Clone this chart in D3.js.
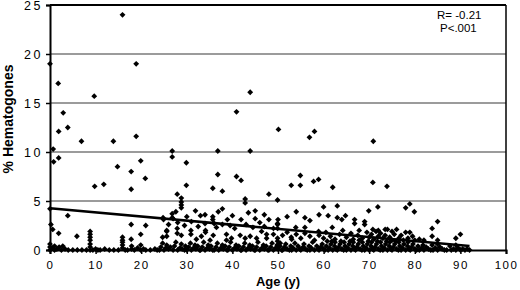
<!DOCTYPE html>
<html>
<head>
<meta charset="utf-8">
<script src="https://cdn.jsdelivr.net/npm/d3@7"></script>
<style>
    body { margin: 0; background: #fff; }
    svg { display: block; font-family: Arial, "Liberation Sans", sans-serif; }
</style>
</head>
<body>
<svg id="hematogonePlot" width="520" height="290"></svg>
<script>
// tick labels
const x_ticks = [0, 10, 20, 30, 40, 50, 60, 70, 80, 90, 100];
const y_ticks = [0, 5, 10, 15, 20, 25];
const stat_lines = ["R= -0.21", "P<.001"];

// [age, % hematogones]
const high_points = [
    [0, 19], [15.9, 24], [18.9, 19], [1.8, 17], [9.7, 15.7], [2.9, 14], [3.9, 12.5], [1.9, 12.1],
    [6.9, 11.1], [13.9, 11.1], [18.9, 11.6], [0.7, 10.3], [0.8, 9.0], [1.9, 9.4], [14.8, 8.5],
    [19.9, 9.1], [17.8, 8.0], [17.8, 6.2], [20.9, 7.3], [9.8, 6.5], [11.8, 6.7], [26.8, 10.1],
    [26.8, 9.5], [29.9, 8.9], [36.8, 10.1], [40.9, 14.1], [43.9, 16.1], [43.9, 10.1], [50.1, 12.3],
    [58, 12.1], [56.9, 11.5], [70.9, 11.1], [29.9, 6.6], [27.9, 5.7], [36.8, 7.7], [35.7, 6.3],
    [37.8, 6.0], [40.9, 7.5], [41.9, 7.1], [42.8, 5.2], [48, 5.7], [49.9, 5.1], [52.9, 6.6],
    [54.9, 7.6], [54.9, 6.6], [57.8, 7.0], [58.9, 7.2], [62, 6.4], [70.8, 6.9], [73.9, 6.5],
    [28.8, 5.3]
];

const mid_points = [
    [0, 4.2], [3.9, 3.5], [0.2, 2.6], [0.6, 2.1], [1.9, 1.7], [5.9, 1.4], [8.8, 1.9], [8.8, 1.6],
    [8.8, 1.3], [8.8, 1.0], [15.9, 1.3], [15.9, 1.0], [17.8, 2.6], [17.8, 1.1], [19.9, 1.6],
    [21, 2.5], [24.7, 1.3], [25.6, 2.0], [24.9, 3.1], [26.8, 3.7], [26.8, 3.3], [27.6, 3.9],
    [27, 3.2], [24.8, 3.3], [28.8, 4.9], [28.8, 4.6], [28.8, 4.3], [31.9, 4.0], [33, 3.5],
    [37.8, 4.2], [36.9, 3.9], [35.7, 3.4], [35.7, 3.1], [36, 2.7], [37.8, 2.6], [38.9, 3.1],
    [41.9, 3.1], [42.8, 4.8], [45, 4.0], [45, 3.2], [48, 3.1], [50, 3.1], [49.9, 2.7], [49.9, 2.2],
    [55.9, 3.3], [53.9, 2.3], [55.9, 2.3], [55.9, 1.7], [61.9, 2.3], [60, 4.4], [63, 4.5],
    [61, 3.5], [63, 3.3], [64.8, 3.5], [64, 3.1], [66.8, 3.1], [66.8, 2.7], [69, 2.9], [69, 2.6],
    [69.9, 4.0], [71.9, 4.4], [78, 4.3], [78.9, 4.7], [79.9, 3.9], [85, 2.9], [83.8, 2.2],
    [83.8, 1.4], [85, 1.0], [90, 1.6], [89, 1.2], [76, 2.1], [78, 1.8], [78.9, 1.8], [74, 2.1],
    [64.2, 2.0], [67.8, 2.0], [70.8, 2.1], [72, 2.0], [73.5, 2.1], [75, 1.9], [58.9, 1.9],
    [52.9, 1.3], [25.6, 1.9], [25.6, 1.4], [27.9, 2.2], [27.9, 1.7], [28.8, 1.5], [30.9, 2.0],
    [30.9, 1.6], [32.1, 1.1], [33.2, 1.4], [34.1, 2.0], [34.1, 1.8], [35.1, 1.0], [35.8, 1.5],
    [38.7, 1.6], [38.7, 1.0], [39.8, 1.2], [41.7, 1.5], [42.8, 1.2], [43.9, 1.4], [45.3, 1.2],
    [46.4, 1.9], [47.5, 1.6], [47.5, 1.2], [49, 2.2], [49, 1.6], [49.9, 2.6], [49.9, 1.2],
    [51, 1.5], [52, 1.8], [53, 1.1], [54, 1.6], [55, 1.2], [57, 1.4], [58, 1.0], [59, 1.5],
    [60, 1.2], [60.5, 1.8], [61.5, 1.4], [62.5, 1.1], [63.5, 1.6], [65, 1.3], [66, 1.7],
    [66.5, 1.1], [67.5, 1.5], [68.5, 1.2], [69.5, 1.8], [70, 1.3], [70.5, 1.6], [71, 1.1],
    [71.5, 1.9], [72, 1.4], [72.5, 1.7], [73, 1.2], [73.5, 1.5], [74.5, 1.3], [75, 1.0],
    [75.5, 1.6], [76.5, 1.2], [77, 1.5], [77.5, 1.0], [78.5, 1.2], [79.5, 1.4], [80, 1.0],
    [81, 1.1], [82, 1.0], [26, 2.6], [28, 2.8], [29.5, 2.5], [31, 2.9], [32.5, 2.4], [34, 2.7],
    [36.5, 2.3], [39.5, 2.5], [40.5, 2.2], [43, 2.6], [44.5, 2.3], [46, 2.8], [47, 2.4],
    [30, 3.4], [34, 3.6], [40, 3.5], [43.5, 3.8], [47, 3.6], [52, 3.4], [54, 3.9], [57, 3.0],
    [59, 3.6]
];

const low_points = [
    [0, 0], [0, 0.3], [0, 0.6], [0.5, 0.2], [1, 0], [1, 0.4], [1.5, 0.1], [2, 0.3], [2.5, 0],
    [2.8, 0.4], [3.3, 0.1], [4, 0], [5, 0], [6, 0], [7, 0], [8, 0], [8.8, 0], [8.8, 0.3],
    [8.8, 0.6], [9.4, 0], [10, 0.1], [10.5, 0], [11, 0], [12, 0.1], [13, 0], [14, 0], [15, 0],
    [15.9, 0.2], [15.9, 0.5], [15.9, 0.8], [16.5, 0], [17, 0], [17.9, 0.1], [17.9, 0.4],
    [18.5, 0], [19.2, 0.2], [19.9, 0], [19.9, 0.5], [20.5, 0.1], [21, 0], [22, 0], [23, 0.1],
    [23.5, 0],
    [24, 0], [24.3, 0.3], [24.7, 0.7], [25, 0], [25.4, 0.2], [25.6, 0.5], [26, 0.1], [26.4, 0.3],
    [27, 0], [27.3, 0.4], [27.6, 0.8], [28, 0], [28.5, 0.2], [28.8, 0.6], [29, 0.1], [29.5, 0],
    [29.7, 0.4], [30, 0], [30.4, 0.3], [30.8, 0.7], [31, 0], [31.5, 0.2], [31.8, 0.5],
    [32, 0.1], [32.4, 0.4], [32.8, 0], [33, 0], [33.4, 0.3], [33.7, 0.8], [34, 0], [34.5, 0.2],
    [34.7, 0.5], [35, 0.1], [35.3, 0.4], [35.7, 0], [36, 0], [36.4, 0.3], [36.7, 0.7], [37, 0],
    [37.5, 0.2], [37.8, 0.5], [38, 0.1], [38.4, 0.4], [38.8, 0], [39, 0], [39.3, 0.3],
    [39.6, 0.8], [40, 0], [40.5, 0.2], [40.8, 0.5], [41, 0.1], [41.4, 0.4], [41.8, 0], [42, 0],
    [42.4, 0.3], [42.7, 0.7], [43, 0], [43.5, 0.2], [43.8, 0.5], [44, 0.1], [44.4, 0.4],
    [44.8, 0], [45, 0], [45.3, 0.3], [45.6, 0.8], [46, 0], [46.5, 0.2], [46.8, 0.5], [47, 0.1],
    [47.4, 0.4], [47.8, 0], [48, 0], [48.4, 0.3], [48.7, 0.7], [49, 0], [49.5, 0.2], [49.8, 0.5],
    [49.9, 0.9], [50, 0.1], [50.4, 0.4], [50.8, 0], [50.5, 0.7], [51, 0], [51.4, 0.3],
    [51.7, 0.6], [52, 0.1], [52.5, 0], [52.8, 0.4], [53, 0], [53.3, 0.2], [53.7, 0.7], [54, 0],
    [54.4, 0.4], [54.8, 0.1], [55, 0], [55.5, 0.3], [55.7, 0.6], [56, 0.1], [56.4, 0],
    [56.8, 0.4], [57, 0], [57.3, 0.2], [57.6, 0.8], [58, 0], [58.5, 0.4], [58.8, 0.1], [59, 0],
    [59.4, 0.3], [59.7, 0.6], [60, 0.1], [60.3, 0], [60.6, 0.4], [60.8, 0.9], [61, 0],
    [61.3, 0.2], [61.6, 0.6], [61.8, 0.9], [62, 0], [62.4, 0.4], [62.7, 0.1], [62.5, 0.8],
    [63, 0], [63.3, 0.3], [63.6, 0.6], [63.8, 0.9], [64, 0.1], [64.4, 0], [64.7, 0.4],
    [64.5, 0.8], [65, 0], [65.3, 0.2], [65.6, 0.6], [65.8, 0.9], [66, 0], [66.4, 0.4],
    [66.7, 0.1], [66.5, 0.8], [67, 0], [67.3, 0.3], [67.6, 0.6], [67.8, 1.0], [68, 0.1],
    [68.4, 0], [68.7, 0.4], [68.5, 0.8], [69, 0], [69.3, 0.2], [69.6, 0.6], [69.8, 0.9], [70, 0],
    [70.4, 0.4], [70.7, 0.1], [70.5, 0.8], [71, 0], [71.3, 0.3], [71.6, 0.6], [71.8, 0.9],
    [72, 0.1], [72.4, 0], [72.7, 0.4], [72.5, 0.8], [73, 0], [73.3, 0.2], [73.6, 0.6],
    [73.8, 0.9], [74, 0], [74.4, 0.4], [74.7, 0.1], [74.5, 0.8], [75, 0], [75.3, 0.3],
    [75.6, 0.6], [75.8, 0.9], [76, 0.1], [76.4, 0], [76.7, 0.4], [76.5, 0.8], [77, 0],
    [77.3, 0.2], [77.6, 0.6], [78, 0], [78.4, 0.4], [78.7, 0.1], [78.5, 0.8], [79, 0],
    [79.3, 0.3], [79.6, 0.6], [80, 0.1], [80.4, 0], [80.7, 0.4], [81, 0], [81.5, 0.2],
    [81.8, 0.5], [82, 0], [82.5, 0.3], [83, 0.1], [83.5, 0], [83.8, 0.5], [84, 0], [84.5, 0.2],
    [85, 0], [85.5, 0.3], [85, 0.6], [86, 0.1], [86.5, 0], [87, 0], [87.7, 0.4], [88, 0],
    [88.5, 0.1], [89, 0], [89, 0.5], [89.5, 0.2], [90, 0], [90.5, 0.1], [91, 0], [91.5, 0.1],
    [92, 0]
];

// trend line end points
const trend_ages = [0, 92];
const trend_values = [4.25, 0.4];

const margin = { top: 5, right: 14, bottom: 40, left: 50 };

const hemato_svg = d3.select("#hematogonePlot");
const hemato_width = +hemato_svg.attr("width") - margin.left - margin.right;
const hemato_height = +hemato_svg.attr("height") - margin.top - margin.bottom;

const hemato_x_scale = d3.scaleLinear().domain([0, 100]).range([0, hemato_width]);
const hemato_y_scale = d3.scaleLinear().domain([0, 25]).range([hemato_height, 0]);

const hemato_g = hemato_svg
    .append("g")
    .attr("transform", `translate(${margin.left}, ${margin.top})`);

// gridlines
hemato_g
    .selectAll(".grid")
    .data(y_ticks.filter((d) => d > 0 && d < 25))
    .enter()
    .append("line")
    .attr("class", "grid")
    .attr("x1", 0)
    .attr("x2", hemato_width)
    .attr("y1", (d) => hemato_y_scale(d))
    .attr("y2", (d) => hemato_y_scale(d))
    .attr("stroke", "#7a7a7a")
    .attr("stroke-width", 1.5);

// frame: top and right
hemato_g
    .append("line")
    .attr("x1", 0)
    .attr("x2", hemato_width)
    .attr("y1", hemato_y_scale(25))
    .attr("y2", hemato_y_scale(25))
    .attr("stroke", "#000")
    .attr("stroke-width", 2);
hemato_g
    .append("line")
    .attr("x1", hemato_width)
    .attr("x2", hemato_width)
    .attr("y1", 0)
    .attr("y2", hemato_height)
    .attr("stroke", "#000")
    .attr("stroke-width", 1.5);

// axes
const hemato_xAxis = hemato_g
    .append("g")
    .attr("transform", `translate(0, ${hemato_height})`)
    .call(
        d3.axisBottom(hemato_x_scale).tickValues(x_ticks).tickSize(4).tickPadding(7)
    );
const hemato_yAxis = hemato_g
    .append("g")
    .call(
        d3.axisLeft(hemato_y_scale).tickValues(y_ticks).tickSize(4).tickPadding(3)
    );

[hemato_xAxis, hemato_yAxis].forEach((ax) => {
    ax.select(".domain").attr("stroke", "#000").attr("stroke-width", 2);
    ax.selectAll(".tick line").attr("stroke", "#000").attr("stroke-width", 1.5);
});
hemato_xAxis
    .selectAll(".tick text")
    .attr("fill", "#000")
    .style("font-size", "11.5px")
    .style("letter-spacing", "1.5px");
hemato_yAxis
    .selectAll(".tick text")
    .attr("fill", "#000")
    .style("font-size", "12.5px")
    .style("letter-spacing", "2.5px");

// points
const all_points = high_points.concat(mid_points, low_points);
const diamond = d3.symbol().type(d3.symbolSquare).size(17);
hemato_g
    .selectAll(".pt")
    .data(all_points)
    .enter()
    .append("path")
    .attr("class", "pt")
    .attr("d", diamond)
    .attr(
        "transform",
        (d) => `translate(${hemato_x_scale(d[0])}, ${hemato_y_scale(d[1])}) rotate(45)`
    )
    .attr("fill", "#000");

// trend line
const trend_line = d3
    .line()
    .x((d) => hemato_x_scale(d.age))
    .y((d) => hemato_y_scale(d.value));
hemato_g
    .append("path")
    .datum(trend_ages.map((a, i) => ({ age: a, value: trend_values[i] })))
    .attr("d", trend_line)
    .attr("fill", "none")
    .attr("stroke", "#000")
    .attr("stroke-width", 2.5);

// stats text
hemato_svg
    .selectAll(".stat")
    .data(stat_lines)
    .enter()
    .append("text")
    .attr("class", "stat")
    .attr("x", (d, i) => (i === 0 ? 437 : 440))
    .attr("y", (d, i) => 19 + i * 13)
    .style("font-size", "11.5px")
    .text((d) => d);

// axis titles
hemato_svg
    .append("text")
    .attr("x", margin.left + hemato_width / 2)
    .attr("y", 286)
    .attr("text-anchor", "middle")
    .style("font-size", "13px")
    .style("font-weight", "bold")
    .text("Age (y)");
hemato_svg
    .append("text")
    .attr("transform", "translate(13, 119) rotate(-90)")
    .attr("text-anchor", "middle")
    .style("font-size", "14px")
    .style("font-weight", "bold")
    .text("% Hematogones");
</script>
</body>
</html>
